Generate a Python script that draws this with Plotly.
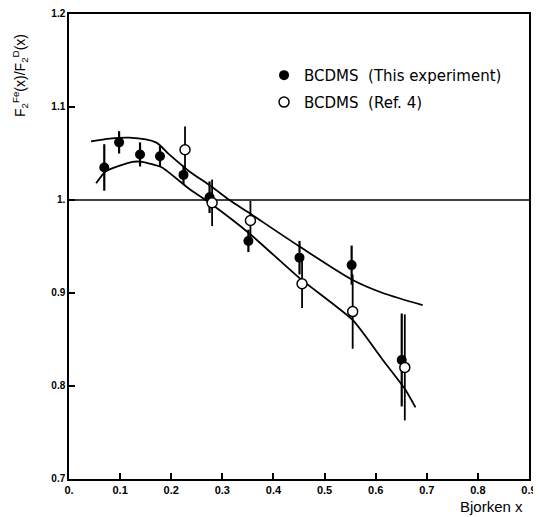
import plotly.graph_objects as go

# Data
this_x = [0.069, 0.098, 0.139, 0.178, 0.224, 0.275, 0.351, 0.451, 0.553, 0.651]
this_y = [1.035, 1.062, 1.049, 1.047, 1.027, 1.003, 0.956, 0.938, 0.930, 0.828]
this_err = [0.025, 0.012, 0.013, 0.011, 0.010, 0.017, 0.012, 0.018, 0.021, 0.050]

ref_x = [0.227, 0.280, 0.355, 0.456, 0.555, 0.657]
ref_y = [1.054, 0.997, 0.978, 0.910, 0.880, 0.820]
ref_err = [0.025, 0.025, 0.021, 0.026, 0.040, 0.057]

upper_x = [0.043, 0.080, 0.118, 0.170, 0.196, 0.235, 0.280, 0.314, 0.350, 0.451, 0.555, 0.614, 0.692]
upper_y = [1.063, 1.066, 1.067, 1.062, 1.049, 1.031, 1.014, 1.000, 0.987, 0.950, 0.914, 0.900, 0.887]

lower_x = [0.053, 0.072, 0.124, 0.143, 0.182, 0.235, 0.275, 0.353, 0.451, 0.555, 0.614, 0.657, 0.678]
lower_y = [1.018, 1.031, 1.041, 1.041, 1.035, 1.012, 0.997, 0.964, 0.916, 0.871, 0.828, 0.797, 0.777]

ref_line_x = [0.0, 0.9]
ref_line_y = [1.0, 1.0]

x_ticks = [0, 0.1, 0.2, 0.3, 0.4, 0.5, 0.6, 0.7, 0.8, 0.9]
x_tick_text = ["0.", "0.1", "0.2", "0.3", "0.4", "0.5", "0.6", "0.7", "0.8", "0.9"]
y_ticks = [0.7, 0.8, 0.9, 1.0, 1.1, 1.2]
y_tick_text = ["0.7", "0.8", "0.9", "1.", "1.1", "1.2"]

FONT = "Liberation Sans, Arial, sans-serif"
LEG_FONT = "DejaVu Sans, Liberation Sans, sans-serif"

fig = go.Figure()

fig.add_trace(go.Scatter(x=ref_line_x, y=ref_line_y, mode="lines",
                         line=dict(color="black", width=1.5), showlegend=False, hoverinfo="skip"))
fig.add_trace(go.Scatter(x=upper_x, y=upper_y, mode="lines", line_shape="spline",
                         line=dict(color="black", width=1.8, smoothing=0.8), showlegend=False))
fig.add_trace(go.Scatter(x=lower_x, y=lower_y, mode="lines", line_shape="spline",
                         line=dict(color="black", width=1.8, smoothing=0.5), showlegend=False))

fig.add_trace(go.Scatter(
    x=this_x, y=this_y, mode="markers", name="BCDMS  (This experiment)",
    marker=dict(symbol="circle", size=10, color="black"),
    error_y=dict(type="data", array=this_err, color="black", thickness=2.2, width=0),
    legend="legend"))
fig.add_trace(go.Scatter(
    x=ref_x, y=ref_y, mode="markers", name="BCDMS  (Ref. 4)",
    marker=dict(symbol="circle", size=10, color="white", line=dict(color="black", width=1.5)),
    error_y=dict(type="data", array=ref_err, color="black", thickness=1.8, width=0),
    legend="legend2"))

legend_common = dict(font=dict(family=LEG_FONT, size=15, color="black"), bgcolor="rgba(0,0,0,0)",
                     xanchor="left", yanchor="middle", itemwidth=30)
fig.update_layout(
    width=541, height=517,
    margin=dict(l=61, r=20, t=6, b=46, autoexpand=False),
    paper_bgcolor="white", plot_bgcolor="white",
    font=dict(family=FONT, color="black"),
    legend=dict(x=0.424, y=0.868, **legend_common),
    legend2=dict(x=0.424, y=0.810, **legend_common),
    xaxis=dict(range=[0, 0.9], tickvals=x_ticks, ticktext=x_tick_text,
               ticks="inside", ticklen=6, tickwidth=1.5, tickcolor="black",
               showline=True, linecolor="black", linewidth=1.5, mirror=True,
               showgrid=False, zeroline=False, automargin=False,
               ticklabeloverflow="allow",
               tickfont=dict(family=FONT, size=11, color="black", weight="bold")),
    yaxis=dict(range=[0.7, 1.2], tickvals=y_ticks, ticktext=y_tick_text,
               ticks="inside", ticklen=6, tickwidth=1.5, tickcolor="black",
               showline=True, linecolor="black", linewidth=1.5, mirror=True,
               showgrid=False, zeroline=False, automargin=False,
               ticklabeloverflow="allow", ticklabelshift=-1,
               tickfont=dict(family=FONT, size=10, color="black", weight="bold")),
    annotations=[
        dict(text="Bjorken x", xref="paper", yref="paper", x=0.991, y=-0.059,
             xanchor="right", yanchor="middle", showarrow=False,
             font=dict(family=FONT, size=15, color="black")),
        dict(text="F<sub>2</sub><sup>Fe</sup>(x)/F<sub>2</sub><sup>D</sup>(x)",
             xref="paper", yref="paper", x=-0.105, y=0.868, textangle=-90,
             xanchor="center", yanchor="middle", showarrow=False,
             font=dict(family=FONT, size=14, color="black")),
    ],
)

fig.write_html("out.html")
